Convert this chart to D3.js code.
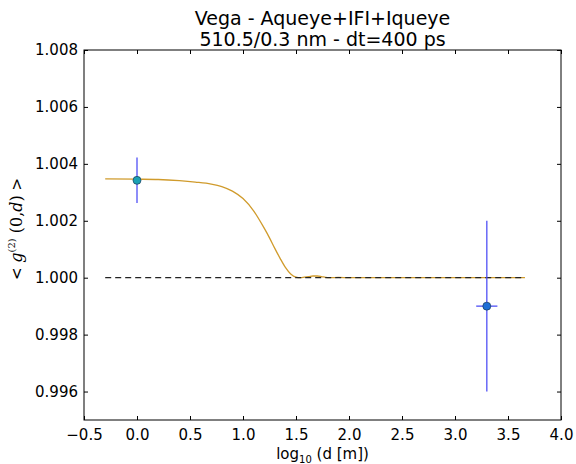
<!DOCTYPE html>
<html>
<head>
<meta charset="utf-8">
<script src="https://cdn.jsdelivr.net/npm/d3@7"></script>
<style>
  html, body { margin: 0; padding: 0; background: #fff; }
  svg { display: block; }
</style>
</head>
<body>
<svg id="chart" width="576" height="464"></svg>
<script>
// ---- data ----
const titleLines = ["Vega - Aqueye+IFI+Iqueye", "510.5/0.3 nm - dt=400 ps"];
const xTicks = [-0.5, 0.0, 0.5, 1.0, 1.5, 2.0, 2.5, 3.0, 3.5, 4.0];
const xTickLabels = ["\u22120.5", "0.0", "0.5", "1.0", "1.5", "2.0", "2.5", "3.0", "3.5", "4.0"];
const yTicks = [0.996, 0.998, 1.000, 1.002, 1.004, 1.006, 1.008];
const yTickLabels = ["0.996", "0.998", "1.000", "1.002", "1.004", "1.006", "1.008"];

const pointX = [0.0, 3.3];
const pointY = [1.00342, 0.9990];
const pointYErr = [0.0008, 0.0030];
const pointXErr = [0.0, 0.1];
const pointColors = ["#1aa0b4", "#1f6fd6"];

const curveX = [-0.30, 0.00, 0.20, 0.40, 0.55, 0.70, 0.80, 0.90, 1.00, 1.10, 1.20, 1.25, 1.30, 1.35, 1.40, 1.45, 1.50, 1.54, 1.58, 1.62, 1.66, 1.70, 1.74, 1.78, 1.82, 1.90, 2.00, 2.50, 3.00, 3.66];
const curveY = [1.00347, 1.00346, 1.00345, 1.00341, 1.00336, 1.00329, 1.00320, 1.00304, 1.00278, 1.00235, 1.00174, 1.00140, 1.00103, 1.00068, 1.00036, 1.00013, 1.00002, 1.00000, 1.00002, 1.00004, 1.00006, 1.00006, 1.00004, 1.00001, 1.00000, 1.00001, 1.00000, 1.00000, 1.00000, 1.00000];

const refLineX = [-0.30, 3.66];
const refLineY = [1.0, 1.0];

// ---- layout ----
const svg = d3.select("#chart");
const m = { left: 84, right: 561, top: 50, bottom: 420 };
const x = d3.scaleLinear().domain([-0.5, 4.0]).range([m.left, m.right]);
const y = d3.scaleLinear().domain([0.995, 1.008]).range([m.bottom, m.top]);
const font = "'DejaVu Sans', sans-serif";

// title
svg.append("text")
  .attr("x", (m.left + m.right) / 2).attr("y", 25)
  .attr("text-anchor", "middle").attr("font-family", font).attr("font-size", 19)
  .text(titleLines[0]);
svg.append("text")
  .attr("x", (m.left + m.right) / 2).attr("y", 46)
  .attr("text-anchor", "middle").attr("font-family", font).attr("font-size", 19)
  .text(titleLines[1]);

// clip
svg.append("defs").append("clipPath").attr("id", "clip")
  .append("rect").attr("x", m.left).attr("y", m.top)
  .attr("width", m.right - m.left).attr("height", m.bottom - m.top);

const plot = svg.append("g").attr("clip-path", "url(#clip)");

// curve
const line = d3.line().x(d => x(d[0])).y(d => y(d[1])).curve(d3.curveMonotoneX);
plot.append("path")
  .datum(curveX.map((v, i) => [v, curveY[i]]))
  .attr("d", line)
  .attr("fill", "none").attr("stroke", "#d09b2c").attr("stroke-width", 1.3);

// dashed reference line
plot.append("path")
  .datum(refLineX.map((v, i) => [v, refLineY[i]]))
  .attr("d", d3.line().x(d => x(d[0])).y(d => y(d[1])))
  .attr("fill", "none").attr("stroke", "#222").attr("stroke-width", 1.2)
  .attr("stroke-dasharray", "6,4");

// error bars
const pts = pointX.map((v, i) => ({ x: v, y: pointY[i], ey: pointYErr[i], ex: pointXErr[i], c: pointColors[i] }));
const eb = plot.append("g").attr("stroke", "#4b4bf5").attr("stroke-opacity", 0.85).attr("stroke-width", 1.5);
pts.forEach(p => {
  eb.append("line")
    .attr("x1", x(p.x)).attr("x2", x(p.x))
    .attr("y1", y(p.y - p.ey)).attr("y2", y(p.y + p.ey));
  if (p.ex > 0) {
    eb.append("line")
      .attr("x1", x(p.x - p.ex)).attr("x2", x(p.x + p.ex))
      .attr("y1", y(p.y)).attr("y2", y(p.y));
  }
});
plot.selectAll("circle.pt").data(pts).enter().append("circle")
  .attr("class", "pt")
  .attr("cx", d => x(d.x)).attr("cy", d => y(d.y)).attr("r", 4)
  .attr("fill", d => d.c).attr("stroke", "#1a3a5a").attr("stroke-width", 0.7);

// frame
svg.append("rect")
  .attr("x", m.left).attr("y", m.top)
  .attr("width", m.right - m.left).attr("height", m.bottom - m.top)
  .attr("fill", "none").attr("stroke", "#000").attr("stroke-width", 1);

// axes with inward ticks
const tickLen = 4;
const xb = svg.append("g").attr("transform", `translate(0,${m.bottom})`)
  .call(d3.axisBottom(x).tickValues(xTicks).tickSizeInner(-tickLen).tickSizeOuter(0).tickPadding(9)
    .tickFormat((d, i) => xTickLabels[i]));
const xt = svg.append("g").attr("transform", `translate(0,${m.top})`)
  .call(d3.axisTop(x).tickValues(xTicks).tickSizeInner(-tickLen).tickSizeOuter(0).tickFormat(""));
const yl = svg.append("g").attr("transform", `translate(${m.left},0)`)
  .call(d3.axisLeft(y).tickValues(yTicks).tickSizeInner(-tickLen).tickSizeOuter(0).tickPadding(6)
    .tickFormat((d, i) => yTickLabels[i]));
const yr = svg.append("g").attr("transform", `translate(${m.right},0)`)
  .call(d3.axisRight(y).tickValues(yTicks).tickSizeInner(-tickLen).tickSizeOuter(0).tickFormat(""));
[xb, xt, yl, yr].forEach(g => {
  g.select(".domain").remove();
  g.selectAll("text").attr("font-family", font).attr("font-size", 15).attr("fill", "#000");
  g.selectAll("line").attr("stroke", "#000");
});

// x label
const xl = svg.append("text")
  .attr("x", (m.left + m.right) / 2).attr("y", 459)
  .attr("text-anchor", "middle").attr("font-family", font).attr("font-size", 15);
xl.append("tspan").text("log");
xl.append("tspan").attr("font-size", 10).attr("dy", 4).text("10");
xl.append("tspan").attr("dy", -4).text(" (d [m])");

// y label
const ylab = svg.append("text")
  .attr("transform", `translate(22,${(m.top + m.bottom) / 2 - 6}) rotate(-90)`)
  .attr("text-anchor", "middle").attr("font-family", font).attr("font-size", 15);
ylab.append("tspan").text("< ");
ylab.append("tspan").attr("font-family", "'DejaVu Serif', serif").attr("font-style", "italic").attr("font-size", 16).text("g");
ylab.append("tspan").attr("font-family", "'DejaVu Serif', serif").attr("font-size", 10).attr("dy", -7).text("(2)");
ylab.append("tspan").attr("font-family", "'DejaVu Serif', serif").attr("font-size", 16).attr("dy", 7).text(" (0,");
ylab.append("tspan").attr("font-family", "'DejaVu Serif', serif").attr("font-style", "italic").attr("font-size", 16).text("d");
ylab.append("tspan").attr("font-family", "'DejaVu Serif', serif").attr("font-size", 16).text(")");
ylab.append("tspan").text(" >");
</script>
</body>
</html>
